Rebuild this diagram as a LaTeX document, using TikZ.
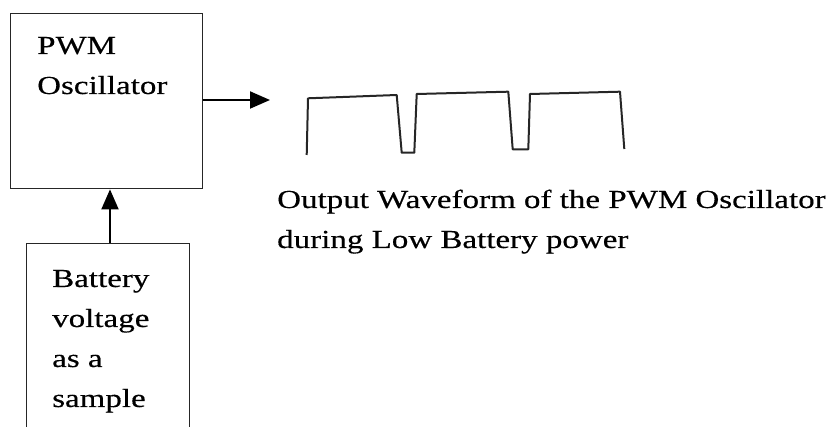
\documentclass[tikz,border=0pt]{standalone}
\usepackage{fontspec}
\setmainfont{Liberation Serif}[FakeStretch=1.27,FakeBold=0.4]
\usetikzlibrary{arrows.meta}
\begin{document}
\begin{tikzpicture}[x=1pt,y=-1pt,
  blockbox/.style={draw=black!85, line width=1.4pt, anchor=north west, inner sep=0pt},
  lbl/.style={anchor=base west, inner sep=0pt, font=\fontsize{26}{40}\selectfont},
  conn/.style={line width=2pt, -{Triangle[length=20pt,width=17pt]}},
  wave/.style={line width=2pt, black!85, line join=round}]
\useasboundingbox (0,0) rectangle (832,427);
\node[blockbox, minimum width=192pt, minimum height=175pt] (osc) at (10,13) {};
\node[lbl] (osct) at (37,54) {\vtop{\hbox{PWM}\hbox{Oscillator}}};
\node[blockbox, minimum width=163pt, minimum height=230pt] (bat) at (26,243) {};
\node[lbl] (batt) at (52,287) {\vtop{\hbox{Battery}\hbox{voltage}\hbox{as a}\hbox{sample}}};
\coordinate (outend) at (270,100);
\draw[conn] (osc.east |- outend) -- (outend);
\draw[conn] (bat.north -| 110,0) -- (osc.south -| 110,0);
\draw[wave] (306.7,155) -- (308,98.3) -- (396.7,95) -- (401.7,152.7) -- (414.3,152.7)
  -- (416.7,94) -- (508.3,91.7) -- (512.7,149.3) -- (528.3,149.3) -- (530,94)
  -- (620,91.7) -- (624.3,149);
\node[lbl] (cap) at (277,208) {\vtop{\hbox{Output Waveform of the PWM Oscillator}\hbox{during Low Battery power}}};
\end{tikzpicture}
\end{document}
